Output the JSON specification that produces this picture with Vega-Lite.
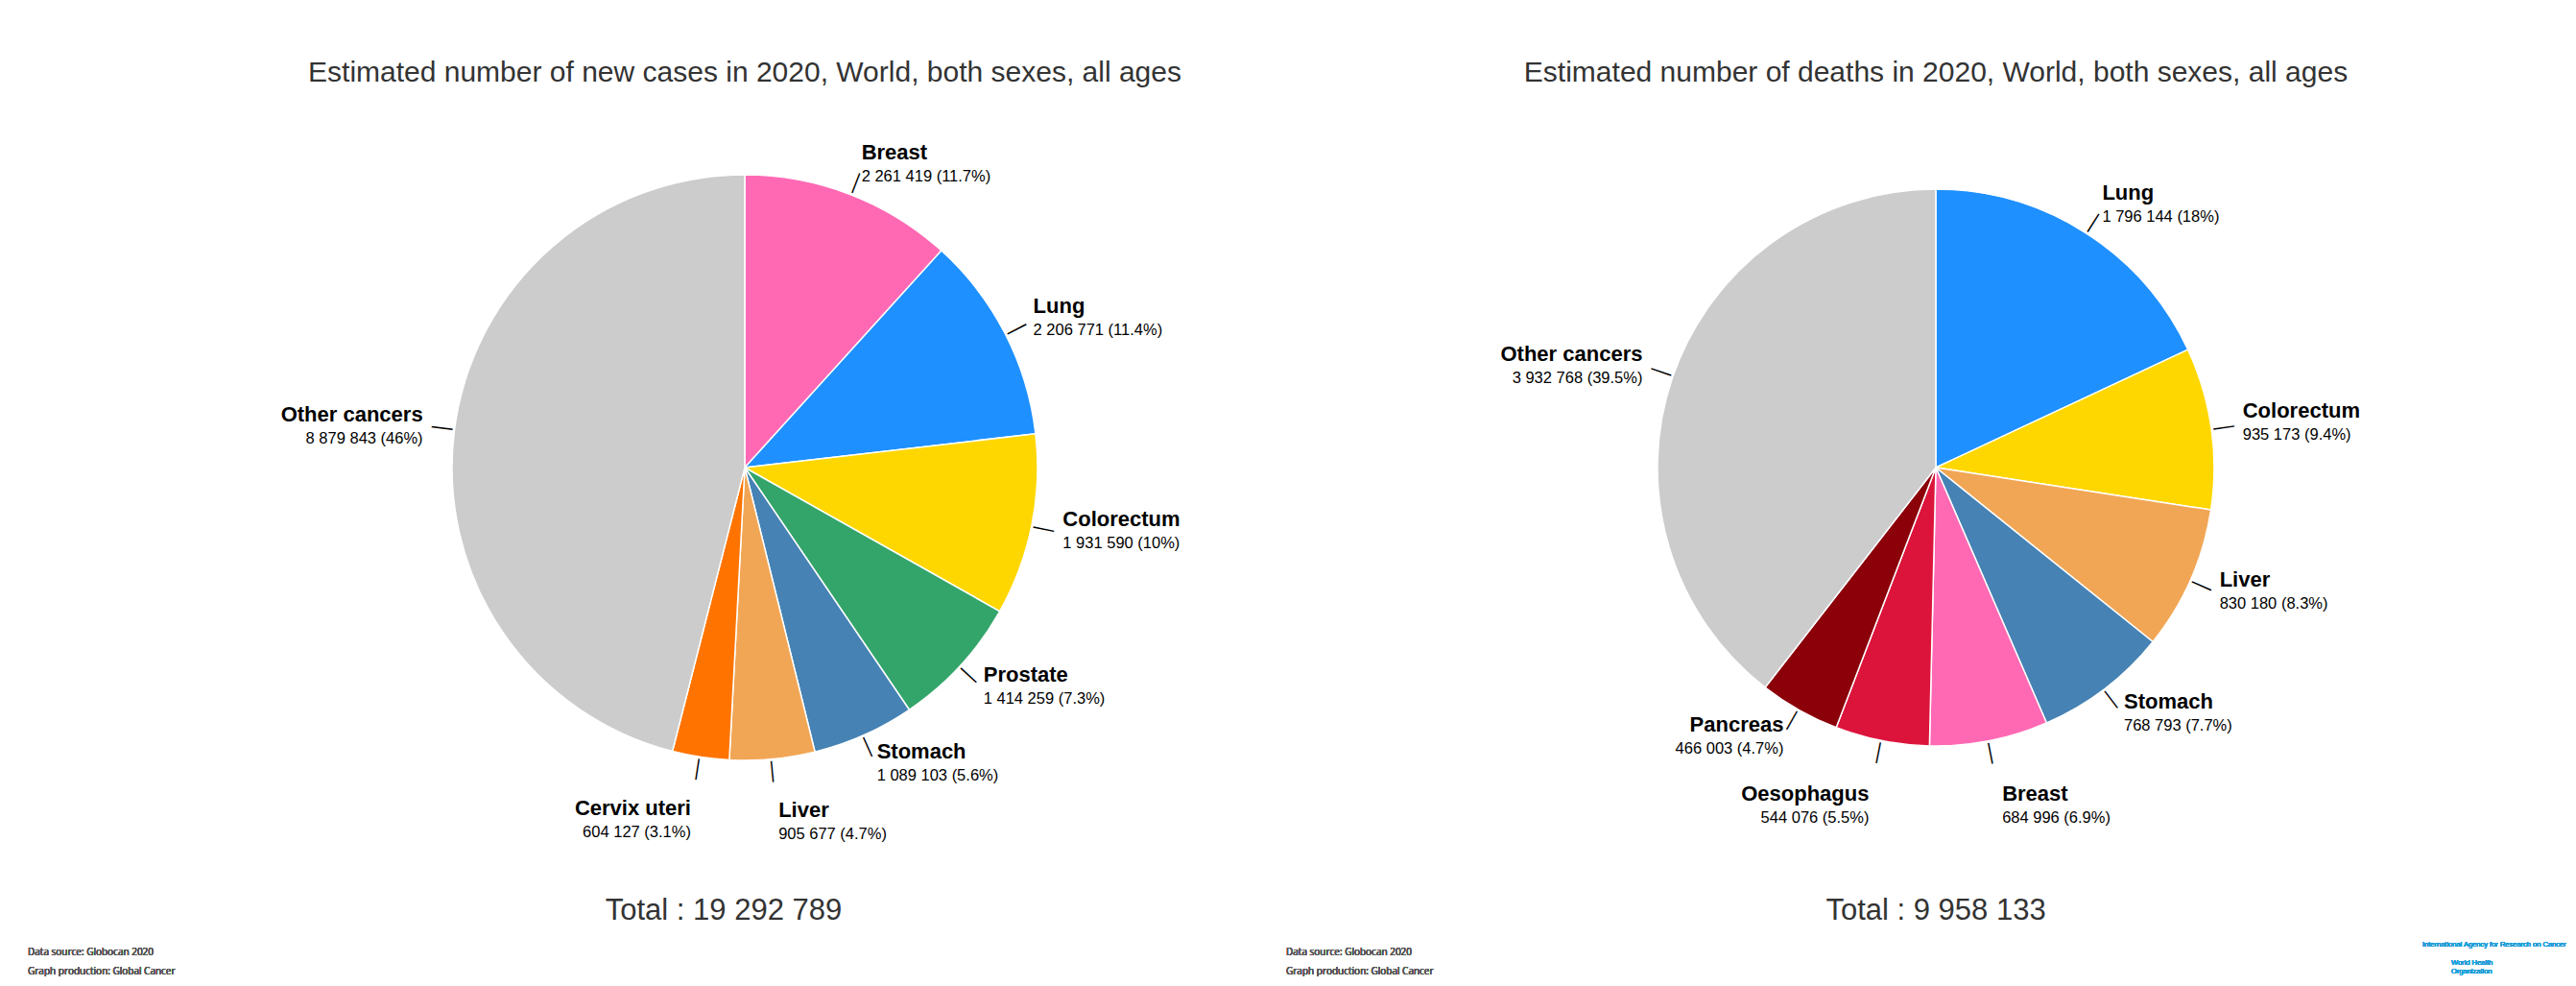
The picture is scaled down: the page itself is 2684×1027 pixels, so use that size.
{
  "$schema": "https://vega.github.io/schema/vega-lite/v6.json",
  "background": "white",
  "padding": {"top": 61, "left": 0, "right": 0, "bottom": 0},
  "spacing": 0,
  "config": {
    "view": {"stroke": null},
    "text": {"font": "Liberation Sans"},
    "title": {"font": "Liberation Sans", "fontSize": 30, "fontWeight": "normal", "color": "#333333", "offset": 5},
    "style": {
      "lblname": {"fontSize": 22, "fontWeight": "bold", "fill": "#1a1a1a", "dy": -6, "baseline": "alphabetic"},
      "lblval": {"fontSize": 16.5, "fontWeight": "normal", "fill": "#555555", "dy": 17, "baseline": "alphabetic"},
      "leader": {"fontSize": 22, "fill": "#d0d0d0", "align": "center", "baseline": "middle"}
    }
  },
  "hconcat": [
    {
      "width": 1552,
      "height": 782,
      "title": "Estimated number of new cases in 2020, World, both sexes, all ages",
      "data": {"values": [
        {"site": "Breast", "cases": 2261419, "pct": 11.7},
        {"site": "Lung", "cases": 2206771, "pct": 11.4},
        {"site": "Colorectum", "cases": 1931590, "pct": 10},
        {"site": "Prostate", "cases": 1414259, "pct": 7.3},
        {"site": "Stomach", "cases": 1089103, "pct": 5.6},
        {"site": "Liver", "cases": 905677, "pct": 4.7},
        {"site": "Cervix uteri", "cases": 604127, "pct": 3.1},
        {"site": "Other cancers", "cases": 8879843, "pct": 46}
      ]},
      "transform": [
        {"window": [{"op": "row_number", "as": "idx"}]},
        {"stack": "cases", "groupby": [], "offset": "normalize", "sort": [{"field": "idx", "order": "ascending"}], "as": ["v0", "v1"]},
        {"calculate": "(datum.v0 + datum.v1) / 2", "as": "mid"},
        {"calculate": "datum.mid * 360 - 90", "as": "ang"},
        {"calculate": "replace(format(datum.cases, ','), regexp(',', 'g'), ' ') + ' (' + datum.pct + '%)'", "as": "detail"}
      ],
      "layer": [
        {
          "mark": {"type": "arc", "outerRadius": 305, "stroke": "white", "strokeWidth": 1.5},
          "encoding": {
            "theta": {"field": "v0", "type": "quantitative", "stack": null, "scale": {"domain": [0, 1]}},
            "theta2": {"field": "v1"},
            "color": {"field": "site", "type": "nominal", "legend": null,
              "scale": {"domain": ["Breast", "Lung", "Colorectum", "Prostate", "Stomach", "Liver", "Cervix uteri", "Oesophagus", "Pancreas", "Other cancers"],
                        "range": ["#ff69b4", "#1e90ff", "#ffd700", "#33a56b", "#4682b4", "#f1a655", "#ff7400", "#dc143c", "#8b0009", "#cccccc"]}}
          }
        },
        {"mark": {"type": "text", "style": "leader", "radius": 318},
         "encoding": {"theta": {"field": "mid", "type": "quantitative", "stack": null, "scale": {"domain": [0, 1]}}, "angle": {"field": "ang", "type": "quantitative", "scale": null}, "text": {"value": "—"}}},
        {"transform": [{"filter": {"field": "site", "oneOf": ["Breast", "Lung", "Colorectum", "Prostate", "Stomach"]}}],
         "mark": {"type": "text", "style": "lblname", "align": "left", "radius": 338},
         "encoding": {"theta": {"field": "mid", "type": "quantitative", "stack": null, "scale": {"domain": [0, 1]}}, "text": {"field": "site"}}},
        {"transform": [{"filter": {"field": "site", "oneOf": ["Breast", "Lung", "Colorectum", "Prostate", "Stomach"]}}],
         "mark": {"type": "text", "style": "lblval", "align": "left", "radius": 338},
         "encoding": {"theta": {"field": "mid", "type": "quantitative", "stack": null, "scale": {"domain": [0, 1]}}, "text": {"field": "detail"}}},
        {"transform": [{"filter": {"field": "site", "oneOf": ["Other cancers"]}}],
         "mark": {"type": "text", "style": "lblname", "align": "right", "radius": 338},
         "encoding": {"theta": {"field": "mid", "type": "quantitative", "stack": null, "scale": {"domain": [0, 1]}}, "text": {"field": "site"}}},
        {"transform": [{"filter": {"field": "site", "oneOf": ["Other cancers"]}}],
         "mark": {"type": "text", "style": "lblval", "align": "right", "radius": 338},
         "encoding": {"theta": {"field": "mid", "type": "quantitative", "stack": null, "scale": {"domain": [0, 1]}}, "text": {"field": "detail"}}},
        {"transform": [{"filter": {"field": "site", "oneOf": ["Liver"]}}],
         "mark": {"type": "text", "style": "lblname", "align": "left", "radius": 372},
         "encoding": {"theta": {"field": "mid", "type": "quantitative", "stack": null, "scale": {"domain": [0, 1]}}, "text": {"field": "site"}}},
        {"transform": [{"filter": {"field": "site", "oneOf": ["Liver"]}}],
         "mark": {"type": "text", "style": "lblval", "align": "left", "radius": 372},
         "encoding": {"theta": {"field": "mid", "type": "quantitative", "stack": null, "scale": {"domain": [0, 1]}}, "text": {"field": "detail"}}},
        {"transform": [{"filter": {"field": "site", "oneOf": ["Cervix uteri"]}}],
         "mark": {"type": "text", "style": "lblname", "align": "right", "radius": 372},
         "encoding": {"theta": {"field": "mid", "type": "quantitative", "stack": null, "scale": {"domain": [0, 1]}}, "text": {"field": "site"}}},
        {"transform": [{"filter": {"field": "site", "oneOf": ["Cervix uteri"]}}],
         "mark": {"type": "text", "style": "lblval", "align": "right", "radius": 372},
         "encoding": {"theta": {"field": "mid", "type": "quantitative", "stack": null, "scale": {"domain": [0, 1]}}, "text": {"field": "detail"}}},
        {"transform": [
           {"aggregate": [{"op": "sum", "field": "cases", "as": "total"}]},
           {"calculate": "'Total : ' + replace(format(datum.total, ','), regexp(',', 'g'), ' ')", "as": "tt"}],
         "mark": {"type": "text", "fontSize": 31, "color": "#333333", "baseline": "alphabetic", "radius": 471, "dx": -22},
         "encoding": {"theta": {"value": 3.14159265}, "text": {"field": "tt"}}},
        {"mark": {"type": "text", "font": "Open Sans", "fontSize": 10, "color": "#555555", "align": "left", "baseline": "alphabetic", "lineHeight": 20},
         "encoding": {"x": {"value": 29}, "y": {"value": 899}, "text": {"value": ["Data source: Globocan 2020", "Graph production: Global Cancer"]}}},
        {"mark": {"type": "text", "font": "Open Sans", "fontSize": 10, "color": "#555555", "align": "left", "baseline": "alphabetic", "lineHeight": 20},
         "encoding": {"x": {"value": 1340}, "y": {"value": 899}, "text": {"value": ["Data source: Globocan 2020", "Graph production: Global Cancer"]}}}
      ]
    },
    {
      "width": 930,
      "height": 782,
      "title": "Estimated number of deaths in 2020, World, both sexes, all ages",
      "data": {"values": [
        {"site": "Lung", "cases": 1796144, "pct": 18},
        {"site": "Colorectum", "cases": 935173, "pct": 9.4},
        {"site": "Liver", "cases": 830180, "pct": 8.3},
        {"site": "Stomach", "cases": 768793, "pct": 7.7},
        {"site": "Breast", "cases": 684996, "pct": 6.9},
        {"site": "Oesophagus", "cases": 544076, "pct": 5.5},
        {"site": "Pancreas", "cases": 466003, "pct": 4.7},
        {"site": "Other cancers", "cases": 3932768, "pct": 39.5}
      ]},
      "transform": [
        {"window": [{"op": "row_number", "as": "idx"}]},
        {"stack": "cases", "groupby": [], "offset": "normalize", "sort": [{"field": "idx", "order": "ascending"}], "as": ["v0", "v1"]},
        {"calculate": "(datum.v0 + datum.v1) / 2", "as": "mid"},
        {"calculate": "datum.mid * 360 - 90", "as": "ang"},
        {"calculate": "replace(format(datum.cases, ','), regexp(',', 'g'), ' ') + ' (' + datum.pct + '%)'", "as": "detail"}
      ],
      "layer": [
        {
          "mark": {"type": "arc", "outerRadius": 290, "stroke": "white", "strokeWidth": 1.5},
          "encoding": {
            "theta": {"field": "v0", "type": "quantitative", "stack": null, "scale": {"domain": [0, 1]}},
            "theta2": {"field": "v1"},
            "color": {"field": "site", "type": "nominal", "legend": null,
              "scale": {"domain": ["Breast", "Lung", "Colorectum", "Prostate", "Stomach", "Liver", "Cervix uteri", "Oesophagus", "Pancreas", "Other cancers"],
                        "range": ["#ff69b4", "#1e90ff", "#ffd700", "#33a56b", "#4682b4", "#f1a655", "#ff7400", "#dc143c", "#8b0009", "#cccccc"]}}
          }
        },
        {"mark": {"type": "text", "style": "leader", "radius": 303},
         "encoding": {"theta": {"field": "mid", "type": "quantitative", "stack": null, "scale": {"domain": [0, 1]}}, "angle": {"field": "ang", "type": "quantitative", "scale": null}, "text": {"value": "—"}}},
        {"transform": [{"filter": {"field": "site", "oneOf": ["Lung", "Colorectum", "Liver", "Stomach"]}}],
         "mark": {"type": "text", "style": "lblname", "align": "left", "radius": 323},
         "encoding": {"theta": {"field": "mid", "type": "quantitative", "stack": null, "scale": {"domain": [0, 1]}}, "text": {"field": "site"}}},
        {"transform": [{"filter": {"field": "site", "oneOf": ["Lung", "Colorectum", "Liver", "Stomach"]}}],
         "mark": {"type": "text", "style": "lblval", "align": "left", "radius": 323},
         "encoding": {"theta": {"field": "mid", "type": "quantitative", "stack": null, "scale": {"domain": [0, 1]}}, "text": {"field": "detail"}}},
        {"transform": [{"filter": {"field": "site", "oneOf": ["Pancreas", "Other cancers"]}}],
         "mark": {"type": "text", "style": "lblname", "align": "right", "radius": 323},
         "encoding": {"theta": {"field": "mid", "type": "quantitative", "stack": null, "scale": {"domain": [0, 1]}}, "text": {"field": "site"}}},
        {"transform": [{"filter": {"field": "site", "oneOf": ["Pancreas", "Other cancers"]}}],
         "mark": {"type": "text", "style": "lblval", "align": "right", "radius": 323},
         "encoding": {"theta": {"field": "mid", "type": "quantitative", "stack": null, "scale": {"domain": [0, 1]}}, "text": {"field": "detail"}}},
        {"transform": [{"filter": {"field": "site", "oneOf": ["Breast"]}}],
         "mark": {"type": "text", "style": "lblname", "align": "left", "radius": 360},
         "encoding": {"theta": {"field": "mid", "type": "quantitative", "stack": null, "scale": {"domain": [0, 1]}}, "text": {"field": "site"}}},
        {"transform": [{"filter": {"field": "site", "oneOf": ["Breast"]}}],
         "mark": {"type": "text", "style": "lblval", "align": "left", "radius": 360},
         "encoding": {"theta": {"field": "mid", "type": "quantitative", "stack": null, "scale": {"domain": [0, 1]}}, "text": {"field": "detail"}}},
        {"transform": [{"filter": {"field": "site", "oneOf": ["Oesophagus"]}}],
         "mark": {"type": "text", "style": "lblname", "align": "right", "radius": 360},
         "encoding": {"theta": {"field": "mid", "type": "quantitative", "stack": null, "scale": {"domain": [0, 1]}}, "text": {"field": "site"}}},
        {"transform": [{"filter": {"field": "site", "oneOf": ["Oesophagus"]}}],
         "mark": {"type": "text", "style": "lblval", "align": "right", "radius": 360},
         "encoding": {"theta": {"field": "mid", "type": "quantitative", "stack": null, "scale": {"domain": [0, 1]}}, "text": {"field": "detail"}}},
        {"transform": [
           {"aggregate": [{"op": "sum", "field": "cases", "as": "total"}]},
           {"calculate": "'Total : ' + replace(format(datum.total, ','), regexp(',', 'g'), ' ')", "as": "tt"}],
         "mark": {"type": "text", "fontSize": 31, "color": "#333333", "baseline": "alphabetic", "radius": 471},
         "encoding": {"theta": {"value": 3.14159265}, "text": {"field": "tt"}}},
        {"mark": {"type": "text", "fontSize": 7.5, "color": "#1a9fd9", "align": "left", "baseline": "alphabetic"},
         "encoding": {"x": {"value": 972}, "y": {"value": 890}, "text": {"value": "International Agency for Research on Cancer"}}},
        {"mark": {"type": "text", "fontSize": 7.5, "color": "#1a9fd9", "align": "left", "baseline": "alphabetic", "lineHeight": 9},
         "encoding": {"x": {"value": 1002}, "y": {"value": 909}, "text": {"value": ["World Health", "Organization"]}}}
      ]
    }
  ]
}
